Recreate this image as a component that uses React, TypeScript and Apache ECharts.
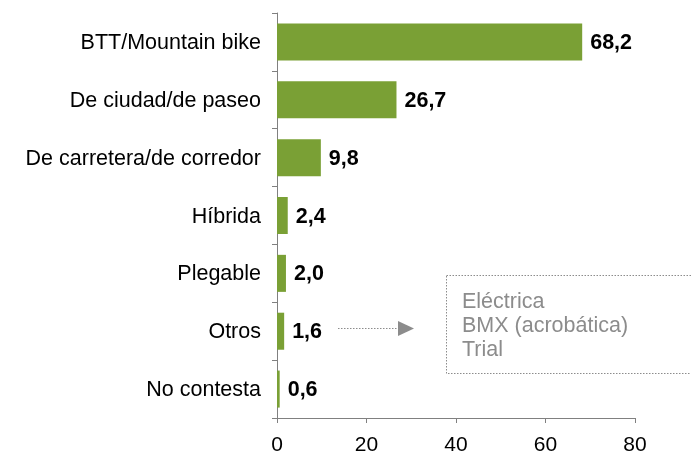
import React, { useEffect, useRef } from "react";
import * as echarts from "echarts";

const categories = [
  "BTT/Mountain bike",
  "De ciudad/de paseo",
  "De carretera/de corredor",
  "Híbrida",
  "Plegable",
  "Otros",
  "No contesta",
];
const values = [68.2, 26.7, 9.8, 2.4, 2.0, 1.6, 0.6];
const xTicks = [0, 20, 40, 60, 80];
const otrosItems = ["Eléctrica", "BMX (acrobática)", "Trial"];

const FONT = "'Liberation Sans', Arial, sans-serif";

export default function App() {
  const ref = useRef<HTMLDivElement>(null);
  useEffect(() => {
    if (!ref.current) return;
    const chart = echarts.init(ref.current, undefined, { renderer: "svg" });
    chart.setOption({
      animation: false,
      textStyle: { fontFamily: FONT },
      grid: { left: 277, right: 56, top: 13, bottom: 41, containLabel: false },
      xAxis: {
        type: "value",
        min: xTicks[0],
        max: xTicks[xTicks.length - 1],
        interval: 20,
        splitLine: { show: false },
        axisLine: { show: true, lineStyle: { color: "#808080", width: 1 } },
        axisTick: { show: true, length: 5, lineStyle: { color: "#808080" } },
        axisLabel: { fontSize: 21, color: "#000", margin: 15, fontFamily: FONT },
      },
      yAxis: {
        type: "category",
        inverse: true,
        data: categories,
        axisLine: { show: true, lineStyle: { color: "#808080", width: 1 } },
        axisTick: { show: true, length: 5, alignWithLabel: false, lineStyle: { color: "#808080" } },
        axisLabel: { fontSize: 21.5, color: "#000", margin: 16, fontFamily: FONT },
      },
      series: [
        {
          type: "bar",
          data: values,
          barCategoryGap: "36%",
          itemStyle: { color: "#7AA035" },
          label: {
            show: true,
            position: "right",
            distance: 8,
            fontSize: 21.5,
            fontWeight: "bold",
            color: "#000",
            fontFamily: FONT,
            formatter: (p: any) => p.value.toFixed(1).replace(".", ","),
          },
        },
      ],
      graphic: [
        {
          type: "rect",
          shape: { x: 446.5, y: 275.5, width: 260, height: 98 },
          style: { fill: "none", stroke: "#8c8c8c", lineWidth: 1, lineDash: [1.5, 1.5] },
        },
        {
          type: "line",
          shape: { x1: 338, y1: 328.5, x2: 399, y2: 328.5 },
          style: { stroke: "#8c8c8c", lineWidth: 1, lineDash: [1.5, 1.5] },
        },
        {
          type: "polygon",
          shape: { points: [[398, 321], [414, 328.5], [398, 336]] },
          style: { fill: "#8c8c8c" },
        },
        ...otrosItems.map((t, i) => ({
          type: "text",
          x: 462,
          y: 301 + i * 24,
          style: {
            text: t,
            fontSize: 21.5,
            fill: "#8c8c8c",
            fontFamily: FONT,
            textVerticalAlign: "middle",
            verticalAlign: "middle",
          },
        })),
      ],
    });
    return () => chart.dispose();
  }, []);
  return (
    <div
      ref={ref}
      style={{ position: "fixed", left: 0, top: 0, width: 691, height: 459 }}
    />
  );
}
